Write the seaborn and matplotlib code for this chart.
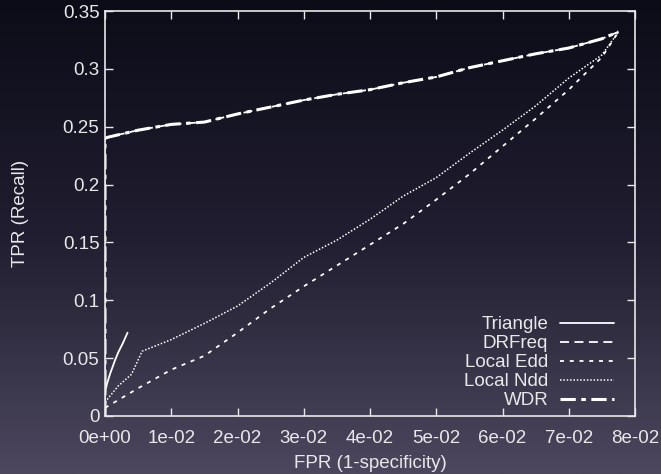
import numpy as np
import pandas as pd
import matplotlib
matplotlib.use("Agg")
import matplotlib.pyplot as plt
import seaborn as sns

# ---- data ----
wdr_x = [0.0, 0.0, 0.0005, 0.005, 0.01, 0.015, 0.02, 0.025, 0.03, 0.035, 0.04, 0.045,
         0.05, 0.055, 0.06, 0.065, 0.07, 0.075, 0.0775]
wdr_y = [0.0, 0.240, 0.241, 0.247, 0.252, 0.254, 0.261, 0.267, 0.273, 0.278, 0.282, 0.288,
         0.293, 0.301, 0.307, 0.313, 0.318, 0.326, 0.332]

drfreq_x = wdr_x
drfreq_y = wdr_y

ndd_x = [0.0, 0.002, 0.004, 0.0056, 0.01, 0.015, 0.02, 0.025, 0.03, 0.035, 0.04, 0.045,
         0.05, 0.055, 0.06, 0.065, 0.07, 0.075, 0.0775]
ndd_y = [0.012, 0.026, 0.036, 0.056, 0.066, 0.080, 0.095, 0.115, 0.137, 0.152, 0.170, 0.190,
         0.206, 0.227, 0.247, 0.268, 0.292, 0.312, 0.332]

edd_x = [0.0, 0.005, 0.01, 0.015, 0.02, 0.025, 0.03, 0.035, 0.04, 0.045, 0.05, 0.055,
         0.06, 0.065, 0.07, 0.075, 0.0775]
edd_y = [0.007, 0.024, 0.040, 0.052, 0.072, 0.093, 0.112, 0.130, 0.148, 0.166, 0.187, 0.209,
         0.233, 0.257, 0.282, 0.310, 0.332]

tri_x = [0.0, 0.0003, 0.0008, 0.0015, 0.002, 0.0027, 0.0034]
tri_y = [0.020, 0.028, 0.037, 0.048, 0.055, 0.063, 0.072]

series = ["Triangle", "DRFreq", "Local Edd", "Local Ndd", "WDR"]
xticks = [0.0, 0.01, 0.02, 0.03, 0.04, 0.05, 0.06, 0.07, 0.08]
xticklabels = ["0e+00", "1e-02", "2e-02", "3e-02", "4e-02", "5e-02", "6e-02", "7e-02", "8e-02"]
yticks = [0, 0.05, 0.1, 0.15, 0.2, 0.25, 0.3, 0.35]
yticklabels = ["0", "0.05", "0.1", "0.15", "0.2", "0.25", "0.3", "0.35"]

frames = []
for name, xs, ys in [("Triangle", tri_x, tri_y), ("DRFreq", drfreq_x, drfreq_y),
                     ("Local Edd", edd_x, edd_y), ("Local Ndd", ndd_x, ndd_y),
                     ("WDR", wdr_x, wdr_y)]:
    frames.append(pd.DataFrame({"x": xs, "y": ys, "series": name, "i": range(len(xs))}))
df = pd.concat(frames, ignore_index=True)

sns.set_style("ticks")
plt.rcParams['font.family'] = ['Liberation Sans', 'DejaVu Sans']
fg = "#e8e8e8"
fs = 13.5

fig = plt.figure(figsize=(6.61, 4.74), dpi=100)

# gradient background
bg = fig.add_axes([0, 0, 1, 1], zorder=-10)
stops_pos = [0.0, 0.5, 1.0]
stops_col = np.array([[12, 12, 24], [32, 30, 48], [76, 71, 94]]) / 255.0
t = np.linspace(0, 1, 256)
grad = np.stack([np.interp(t, stops_pos, stops_col[:, c]) for c in range(3)], axis=-1)
bg.imshow(grad[:, None, :], aspect="auto", extent=[0, 1, 1, 0])
bg.set_axis_off()

ax = fig.add_axes([105 / 661, 1 - 416 / 474, 530 / 661, 405 / 474])
ax.set_facecolor("none")

styles = {
    "Triangle": dict(ls="-", lw=1.3),
    "DRFreq": dict(ls=(0, (5, 3)), lw=1.3),
    "Local Edd": dict(ls=(0, (2.2, 3.2)), lw=1.3),
    "Local Ndd": dict(ls=(0, (1, 1.2)), lw=1.1),
    "WDR": dict(ls=(0, (5, 1.8, 1.5, 1.8)), lw=2.2),
}
for name in series:
    sub = df[df["series"] == name]
    sns.lineplot(data=sub, x="x", y="y", sort=False, estimator=None, ax=ax,
                 color="white", label=name, **styles[name])

ax.set_xlim(0, 0.08)
ax.set_ylim(0, 0.35)
ax.set_xticks(xticks)
ax.set_xticklabels(xticklabels)
ax.set_yticks(yticks)
ax.set_yticklabels(yticklabels)
ax.tick_params(direction="in", length=6, width=1, color=fg, labelcolor=fg,
               labelsize=fs, top=True, right=True)
ax.tick_params(axis="x", pad=10)
ax.tick_params(axis="y", pad=4)
for s in ax.spines.values():
    s.set_color(fg)
    s.set_linewidth(1.2)
    s.set_visible(True)
ax.set_xlabel("FPR (1-specificity)", color=fg, fontsize=fs, labelpad=6)
ax.set_ylabel("TPR (Recall)", color=fg, fontsize=fs, labelpad=24)

leg = ax.legend(loc="lower right", bbox_to_anchor=(0.985, -0.016), frameon=False,
                markerfirst=False, handlelength=2.85, handletextpad=0.65,
                labelspacing=0.1, fontsize=fs, borderpad=0.2)
for txt in leg.get_texts():
    txt.set_color(fg)

fig.savefig("out.png", dpi=100)
